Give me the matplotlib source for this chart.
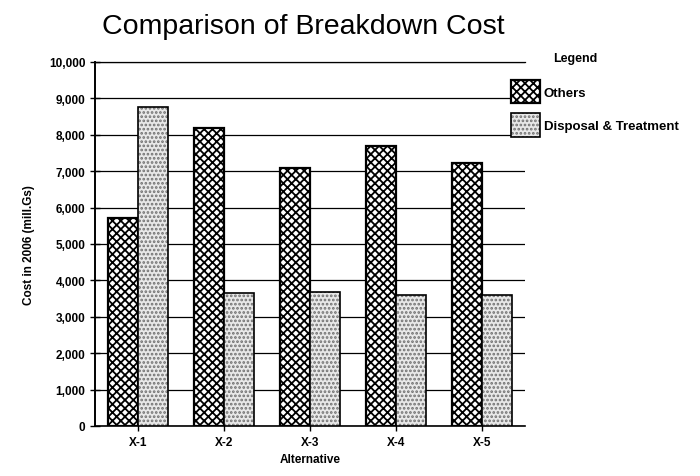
import numpy as np
import matplotlib.pyplot as plt
from matplotlib.patches import Patch

alternatives = ["X-1", "X-2", "X-3", "X-4", "X-5"]
others = [5720, 8180, 7100, 7700, 7220]
disposal = [8750, 3660, 3690, 3590, 3610]
yticks = [0, 1000, 2000, 3000, 4000, 5000, 6000, 7000, 8000, 9000, 10000]

plt.rcParams['font.family'] = ['Liberation Sans', 'DejaVu Sans']
plt.rcParams['hatch.linewidth'] = 1.3

fig = plt.figure(figsize=(7, 4.77), dpi=100)
ax = fig.add_axes([0.136, 0.105, 0.614, 0.763])

x = np.arange(len(alternatives))
w = 0.35
ax.bar(x - w/2, others, w, facecolor='white', edgecolor='black', hatch='xxxx',
       linewidth=1.6, zorder=3)
# stipple in grey, then a black outline on top
ax.bar(x + w/2, disposal, w, facecolor='#e8e8e8', edgecolor='#707070', hatch='....',
       linewidth=0, zorder=3)
ax.bar(x + w/2, disposal, w, facecolor='none', edgecolor='black',
       linewidth=1.2, zorder=4)

ax.set_xlim(-0.5, len(alternatives) - 0.5)
ax.set_ylim(0, 10000)
ax.set_yticks(yticks)
ax.set_yticklabels([f"{v:,}" for v in yticks], fontsize=8.5, fontweight='bold')
ax.set_xticks(x)
ax.set_xticklabels(alternatives, fontsize=8.5, fontweight='bold')
ax.tick_params(axis='y', direction='inout', length=7, width=1)
ax.tick_params(axis='x', direction='inout', length=7, width=1)
ax.yaxis.grid(True, color='black', linewidth=0.9, zorder=0)
ax.set_axisbelow(True)
ax.spines['right'].set_visible(False)
ax.spines['top'].set_linewidth(0.9)
ax.spines['left'].set_linewidth(1.4)
ax.spines['bottom'].set_linewidth(1.2)

ax.set_xlabel("Alternative", fontsize=8.5, fontweight='bold', labelpad=4)
ax.set_ylabel("Cost in 2006 (mill.Gs)", fontsize=8.5, fontweight='bold', labelpad=10)

fig.text(0.433, 0.943, "Comparison of Breakdown Cost", fontsize=20.5,
         ha='center', va='center')

handles = [Patch(facecolor='white', edgecolor='black', hatch='xxxx', linewidth=1.6),
           (Patch(facecolor='#e8e8e8', edgecolor='#707070', hatch='....', linewidth=0),
            Patch(facecolor='none', edgecolor='black', linewidth=1.2))]
fig.legend(handles, ["Others", "Disposal & Treatment"], loc='upper left',
           bbox_to_anchor=(0.722, 0.842), frameon=False,
           prop={'size': 9.5, 'weight': 'bold'},
           handlelength=2.2, handleheight=2.4, handletextpad=0.3,
           labelspacing=0.7, borderaxespad=0)
fig.text(0.79, 0.877, "Legend", fontsize=9, fontweight='bold', va='center')

fig.savefig("out.png", dpi=100)
